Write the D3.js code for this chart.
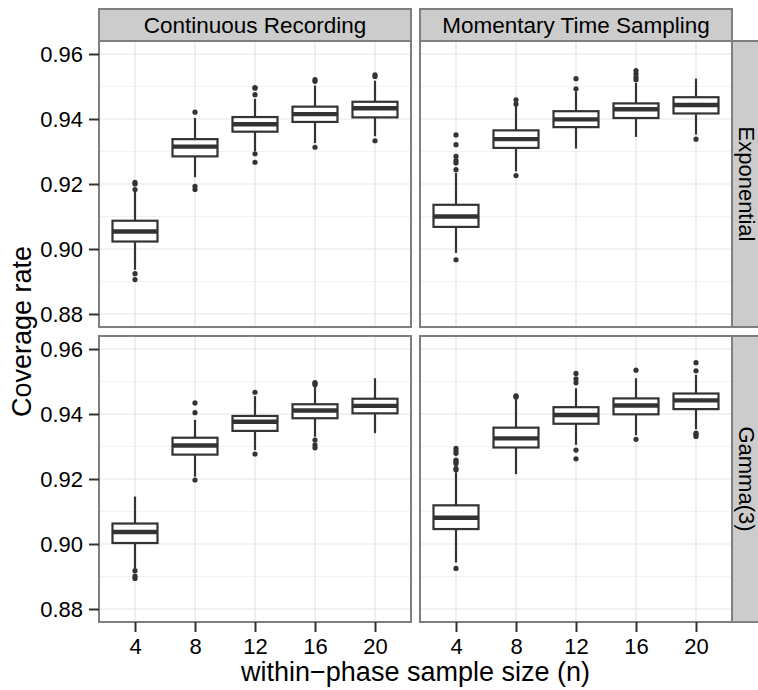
<!DOCTYPE html>
<html>
<head>
<meta charset="utf-8">
<script src="https://cdn.jsdelivr.net/npm/d3@7"></script>
<style>
  body { margin: 0; background: #fff; }
  svg text { font-family: "Liberation Sans", Arial, Helvetica, sans-serif; fill: #000; }
</style>
</head>
<body>
<div id="chart"></div>
<script>
// categories
var sizes = [4, 8, 12, 16, 20];
var methods = ["Continuous Recording", "Momentary Time Sampling"];
var dists = ["Exponential", "Gamma(3)"];
var yTicks = [0.88, 0.90, 0.92, 0.94, 0.96];
var yMinor = [0.89, 0.91, 0.93, 0.95];

// box stats per panel: [lower whisker, q1, median, q3, upper whisker]
var crExpBox = [
  [0.8936, 0.9023, 0.9054, 0.9087, 0.9177],
  [0.9221, 0.9285, 0.9315, 0.9338, 0.9403],
  [0.9301, 0.9361, 0.9384, 0.9406, 0.9462],
  [0.9326, 0.9391, 0.9415, 0.9438, 0.9503],
  [0.9347, 0.9405, 0.9433, 0.9453, 0.9518]
];
var crExpOut = [
  [0.8906, 0.8924, 0.9183, 0.9200, 0.9205],
  [0.9183, 0.9193, 0.9421],
  [0.9267, 0.9293, 0.9475, 0.9495, 0.9497],
  [0.9313, 0.9516, 0.9521],
  [0.9333, 0.9531, 0.9536]
];
var mtsExpBox = [
  [0.8988, 0.9068, 0.9100, 0.9136, 0.9234],
  [0.9239, 0.9311, 0.9338, 0.9365, 0.9441],
  [0.9309, 0.9375, 0.9399, 0.9424, 0.9485],
  [0.9345, 0.9403, 0.9430, 0.9448, 0.9511],
  [0.9352, 0.9417, 0.9443, 0.9467, 0.9524]
];
var mtsExpOut = [
  [0.8967, 0.9244, 0.9265, 0.9272, 0.9285, 0.9321, 0.9351],
  [0.9226, 0.9446, 0.9459],
  [0.9493, 0.9524],
  [0.9521, 0.9529, 0.9539, 0.9549],
  [0.9338]
];
var crGamBox = [
  [0.8925, 0.9003, 0.9037, 0.9063, 0.9146],
  [0.9207, 0.9275, 0.9303, 0.9327, 0.9382],
  [0.9289, 0.9348, 0.9376, 0.9394, 0.9455],
  [0.9330, 0.9387, 0.9411, 0.9430, 0.9484],
  [0.9341, 0.9402, 0.9425, 0.9447, 0.9510]
];
var crGamOut = [
  [0.8894, 0.8901, 0.8918],
  [0.9197, 0.9404, 0.9434],
  [0.9277, 0.9467],
  [0.9296, 0.9305, 0.9320, 0.9490, 0.9494, 0.9497],
  []
];
var mtsGamBox = [
  [0.8943, 0.9046, 0.9081, 0.9119, 0.9220],
  [0.9215, 0.9297, 0.9325, 0.9358, 0.9446],
  [0.9305, 0.9370, 0.9397, 0.9421, 0.9479],
  [0.9335, 0.9399, 0.9426, 0.9448, 0.9510],
  [0.9353, 0.9415, 0.9442, 0.9463, 0.9520]
];
var mtsGamOut = [
  [0.8925, 0.9228, 0.9233, 0.9248, 0.9253, 0.9258, 0.9279, 0.9287, 0.9294],
  [0.9452, 0.9454, 0.9456],
  [0.9262, 0.9289, 0.9496, 0.9508, 0.9525],
  [0.9322, 0.9535],
  [0.9331, 0.9336, 0.9341, 0.9533, 0.9558]
];

var panels = [
  {row: 0, col: 0, box: crExpBox, out: crExpOut},
  {row: 0, col: 1, box: mtsExpBox, out: mtsExpOut},
  {row: 1, col: 0, box: crGamBox, out: crGamOut},
  {row: 1, col: 1, box: mtsGamBox, out: mtsGamOut}
];

var W = 758, H = 690;
var left = 99, top0 = 41, pw = 312, ph = 286, gap = 9, stripH = 32;

var svg = d3.select("#chart").append("svg")
  .attr("width", W).attr("height", H);

// 5% expand like ggplot
var yLo = 0.88, yHi = 0.96, ex = (yHi - yLo) * 0.05;

function colX(c) { return left + c * (pw + gap); }
function rowY(r) { return top0 + r * (ph + gap); }

panels.forEach(function(p) {
  var x0 = colX(p.col), y0 = rowY(p.row);
  var x = d3.scalePoint().domain(sizes).range([x0, x0 + pw]).padding(0.6);
  var y = d3.scaleLinear().domain([yLo - ex, yHi + ex]).range([y0 + ph, y0]);
  var bw = x.step() * 0.75;

  var g = svg.append("g");
  g.append("rect").attr("x", x0).attr("y", y0).attr("width", pw).attr("height", ph)
    .attr("fill", "#fff");

  // grid
  g.selectAll(".minor").data(yMinor).enter().append("line")
    .attr("x1", x0).attr("x2", x0 + pw)
    .attr("y1", function(d){ return y(d); }).attr("y2", function(d){ return y(d); })
    .attr("stroke", "#F2F2F2").attr("stroke-width", 1.2);
  g.selectAll(".major").data(yTicks).enter().append("line")
    .attr("x1", x0).attr("x2", x0 + pw)
    .attr("y1", function(d){ return y(d); }).attr("y2", function(d){ return y(d); })
    .attr("stroke", "#E5E5E5").attr("stroke-width", 1.2);
  g.selectAll(".vmajor").data(sizes).enter().append("line")
    .attr("x1", function(d){ return x(d); }).attr("x2", function(d){ return x(d); })
    .attr("y1", y0).attr("y2", y0 + ph)
    .attr("stroke", "#E5E5E5").attr("stroke-width", 1.2);

  // boxplots
  var bx = g.selectAll(".bx").data(p.box).enter().append("g");
  bx.append("line")
    .attr("x1", function(d, i){ return x(sizes[i]); })
    .attr("x2", function(d, i){ return x(sizes[i]); })
    .attr("y1", function(d){ return y(d[0]); })
    .attr("y2", function(d){ return y(d[4]); })
    .attr("stroke", "#333").attr("stroke-width", 2.2);
  bx.append("rect")
    .attr("x", function(d, i){ return x(sizes[i]) - bw / 2; })
    .attr("width", bw)
    .attr("y", function(d){ return y(d[3]); })
    .attr("height", function(d){ return y(d[1]) - y(d[3]); })
    .attr("fill", "#fff").attr("stroke", "#333").attr("stroke-width", 2.2);
  bx.append("line")
    .attr("x1", function(d, i){ return x(sizes[i]) - bw / 2; })
    .attr("x2", function(d, i){ return x(sizes[i]) + bw / 2; })
    .attr("y1", function(d){ return y(d[2]); })
    .attr("y2", function(d){ return y(d[2]); })
    .attr("stroke", "#333").attr("stroke-width", 4.4);

  // outliers
  p.out.forEach(function(arr, i) {
    g.selectAll(null).data(arr).enter().append("circle")
      .attr("cx", x(sizes[i])).attr("cy", function(d){ return y(d); })
      .attr("r", 2.6).attr("fill", "#333");
  });

  // panel border
  g.append("rect").attr("x", x0).attr("y", y0).attr("width", pw).attr("height", ph)
    .attr("fill", "none").attr("stroke", "#7F7F7F").attr("stroke-width", 2);

  // y axis on left column
  if (p.col === 0) {
    var ya = g.append("g").attr("transform", "translate(" + x0 + ",0)")
      .call(d3.axisLeft(y).tickValues(yTicks).tickFormat(d3.format(".2f")).tickSize(10).tickPadding(6));
    ya.select(".domain").remove();
    ya.selectAll("line").attr("stroke", "#333").attr("stroke-width", 2);
    ya.selectAll("text").attr("font-size", 22).attr("fill", "#000")
      .attr("font-family", "Liberation Sans, Arial, sans-serif");
  }
  // x axis on bottom row
  if (p.row === 1) {
    var xa = g.append("g").attr("transform", "translate(0," + (y0 + ph) + ")")
      .call(d3.axisBottom(x).tickSize(10).tickPadding(6));
    xa.select(".domain").remove();
    xa.selectAll("line").attr("stroke", "#333").attr("stroke-width", 2);
    xa.selectAll("text").attr("font-size", 22).attr("fill", "#000")
      .attr("font-family", "Liberation Sans, Arial, sans-serif");
  }
});

// top strips
methods.forEach(function(m, c) {
  var x0 = colX(c);
  svg.append("rect").attr("x", x0).attr("y", top0 - stripH).attr("width", pw).attr("height", stripH)
    .attr("fill", "#CCCCCC").attr("stroke", "#7F7F7F").attr("stroke-width", 2);
  svg.append("text").attr("x", x0 + pw / 2).attr("y", 33)
    .attr("text-anchor", "middle").attr("font-size", 22.5).text(m);
});

// right strips
dists.forEach(function(dn, r) {
  var y0 = rowY(r), x0 = colX(1) + pw;
  svg.append("rect").attr("x", x0).attr("y", y0).attr("width", stripH).attr("height", ph)
    .attr("fill", "#CCCCCC").attr("stroke", "#7F7F7F").attr("stroke-width", 2);
  svg.append("text")
    .attr("transform", "translate(" + (x0 + 6.5) + "," + (y0 + ph / 2) + ")rotate(90)")
    .attr("text-anchor", "middle").attr("font-size", 22).text(dn);
});

// axis titles
svg.append("text").attr("x", left + (2 * pw + gap) / 2).attr("y", 681)
  .attr("text-anchor", "middle").attr("font-size", 27).text("within\u2212phase sample size (n)");
svg.append("text")
  .attr("transform", "translate(31," + (top0 + (2 * ph + gap) / 2) + ")rotate(-90)")
  .attr("text-anchor", "middle").attr("font-size", 27).text("Coverage rate");
</script>
</body>
</html>
